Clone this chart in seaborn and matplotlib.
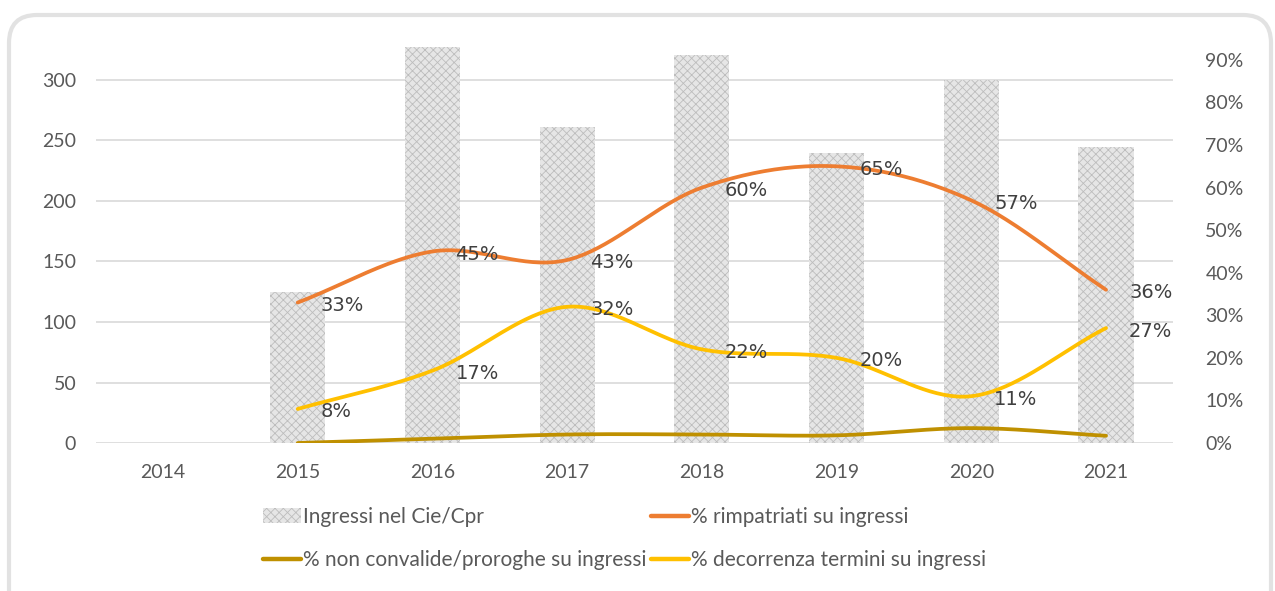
import numpy as np
import pandas as pd
import seaborn as sns
import matplotlib.pyplot as plt
from matplotlib.patches import Patch, FancyBboxPatch
from matplotlib.lines import Line2D
from matplotlib.ticker import PercentFormatter

# --- data ---
years = ["2014", "2015", "2016", "2017", "2018", "2019", "2020", "2021"]
bar_years = ["2015", "2016", "2017", "2018", "2019", "2020", "2021"]
ingressi = [125, 327, 261, 321, 240, 300, 245]
rimpatriati = [0.33, 0.45, 0.43, 0.60, 0.65, 0.57, 0.36]
decorrenza = [0.08, 0.17, 0.32, 0.22, 0.20, 0.11, 0.27]
non_convalide = [0.0, 0.01, 0.02, 0.02, 0.018, 0.035, 0.017]

ORANGE = "#ED7D31"
YELLOW = "#FFC000"
GOLD = "#BF9000"
TICK = "#595959"
LABEL = "#404040"
BAR_FACE = "#e6e6e6"
BAR_HATCH = "#bdbdbd"


def smooth(xs, ys, n=40):
    # Excel-style smoothed line (Catmull-Rom through the points)
    xs = np.asarray(xs, float)
    ys = np.asarray(ys, float)
    m = np.gradient(ys, xs)
    m[1:-1] = (ys[2:] - ys[:-2]) / (xs[2:] - xs[:-2])
    out_x, out_y = [], []
    for i in range(len(xs) - 1):
        t = np.linspace(0, 1, n)
        h = xs[i + 1] - xs[i]
        h00 = 2 * t**3 - 3 * t**2 + 1
        h10 = t**3 - 2 * t**2 + t
        h01 = -2 * t**3 + 3 * t**2
        h11 = t**3 - t**2
        out_x.append(xs[i] + t * h)
        out_y.append(h00 * ys[i] + h10 * h * m[i] + h01 * ys[i + 1] + h11 * h * m[i + 1])
    return np.concatenate(out_x), np.concatenate(out_y)


sns.set_theme(style="white")
plt.rcParams["font.family"] = ["Lato", "DejaVu Sans"]
plt.rcParams["hatch.linewidth"] = 0.6

fig = plt.figure(figsize=(12.75, 5.91), dpi=100)
ax = fig.add_axes([0.075, 0.2504, 0.8453, 0.6819])

df = pd.DataFrame({"year": bar_years, "ingressi": ingressi})
sns.barplot(data=df, x="year", y="ingressi", order=years, ax=ax,
            color=BAR_FACE, width=0.41, saturation=1, zorder=2)
for p in ax.patches:
    p.set_hatch("xxxx")
    p.set_edgecolor(BAR_HATCH)
    p.set_linewidth(0)

ax.set_xlim(-0.5, 7.5)
ax.set_ylim(0, 333)
ax.set_yticks(range(0, 301, 50))
ax.grid(axis="y", color="#d9d9d9", linewidth=1.2, zorder=0)
ax.set_axisbelow(True)
ax.set_xlabel("")
ax.set_ylabel("")
for s in ax.spines.values():
    s.set_visible(False)
ax.tick_params(axis="y", length=0, pad=14, labelsize=14, labelcolor=TICK)
ax.tick_params(axis="x", length=0, pad=15, labelsize=14, labelcolor=TICK)

ax2 = ax.twinx()
ax2.set_ylim(0, 333 * 0.002843)
ax2.set_yticks(np.arange(0, 0.91, 0.1))
ax2.yaxis.set_major_formatter(PercentFormatter(1.0, decimals=0))
ax2.tick_params(axis="y", length=0, pad=23, labelsize=14, labelcolor=TICK)
ax2.grid(False)
for s in ax2.spines.values():
    s.set_visible(False)

xpos = [years.index(y) for y in bar_years]
for vals, col, labelled in [(non_convalide, GOLD, False),
                            (rimpatriati, ORANGE, True),
                            (decorrenza, YELLOW, True)]:
    sx, sy = smooth(xpos, vals)
    ax2.plot(sx, sy, color=col, linewidth=2.7, solid_capstyle="round", zorder=3)
    if labelled:
        for x, v in zip(xpos, vals):
            ax2.annotate(f"{v:.0%}", (x, v), xytext=(23, -3), textcoords="offset pixels",
                         ha="left", va="center", fontsize=14, color=LABEL,
                         family=["DejaVu Sans"], zorder=4)

handles = [
    Patch(facecolor=BAR_FACE, edgecolor=BAR_HATCH, hatch="xxxx", linewidth=0),
    Line2D([], [], color=GOLD, linewidth=3.2),
    Line2D([], [], color=ORANGE, linewidth=3.2),
    Line2D([], [], color=YELLOW, linewidth=3.2),
]
labels = ["Ingressi nel Cie/Cpr", "% non convalide/proroghe su ingressi",
          "% rimpatriati su ingressi", "% decorrenza termini su ingressi"]
leg = fig.legend(handles, labels, loc="center", bbox_to_anchor=(0.49, 0.089), ncol=2,
                 frameon=False, fontsize=15, labelcolor=TICK, handlelength=1.8,
                 handletextpad=0.12, columnspacing=0.2, labelspacing=1.1)

# rounded border round the chart
border = FancyBboxPatch((0.09, -0.5), 12.62, 6.26, transform=fig.dpi_scale_trans,
                        boxstyle="round,pad=0,rounding_size=0.28",
                        facecolor="none", edgecolor="#e2e2e2", linewidth=3)
fig.patches.append(border)

fig.savefig("out.png", dpi=100)
